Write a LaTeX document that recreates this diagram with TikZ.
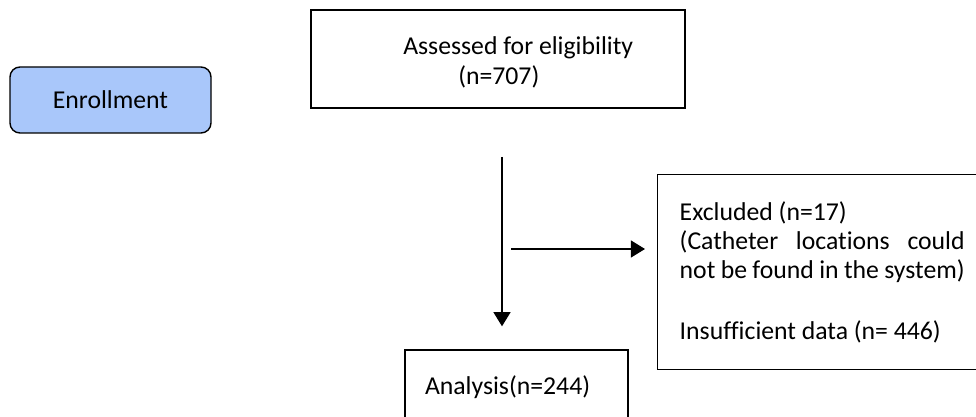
\documentclass[tikz,border=0pt]{standalone}
\usepackage{fontspec}
\setmainfont{Carlito}[Ligatures=NoCommon]
\usetikzlibrary{arrows.meta}

\definecolor{enrollblue}{RGB}{169,199,250}

\begin{document}
\begin{tikzpicture}[
    box/.style={draw, line width=1pt, inner sep=0pt},
    flow/.style={line width=1.1pt, -{Triangle[width=12pt, length=10pt]}},
    font=\fontsize{18.3pt}{20.6pt}\selectfont
  ]

\useasboundingbox (0, 0) rectangle (24.4, 10.425);
\clip (0, 0) rectangle (24.4, 10.425);

% Enrollment
\node (enroll) [box, fill=enrollblue, rounded corners=0.25cm,
  minimum width=5.025cm, minimum height=1.65cm] at (2.7625, 7.925) {Enrollment};

% Assessed
\node (assess) [box, minimum width=9.35cm, minimum height=2.45cm] at (12.45, 8.95) {};
\node (assesstxt) [anchor=base west, align=left, inner sep=0pt] at (10.075, 8.3)
  {Assessed for eligibility\\[1pt]\hspace*{1.375cm}(n=707)};

% Excluded
\node (excl) [box, anchor=north west, text width=7.125cm, inner xsep=0.55cm,
  minimum height=4.875cm, align=justify] at (16.425, 6.075)
  {Excluded (n=17)\\
   (Catheter locations could not be found in the system)\\[23pt]
   Insufficient data (n= 446)};

% Analysis
\node (analysis) [box, text width=4.575cm, inner xsep=0.5cm,
  minimum height=1.85cm, align=left] at (12.9125, 0.75) {Analysis(n=244)};

% Arrows
\coordinate (vtop) at (12.55, 6.5);
\coordinate (hstart) at (12.775, 4.2);
\draw [flow, shorten >=0.575cm] (vtop) -- (vtop |- analysis.north);
\draw [flow, shorten >=0.3cm] (hstart) -- (excl.west |- hstart);

\end{tikzpicture}
\end{document}
